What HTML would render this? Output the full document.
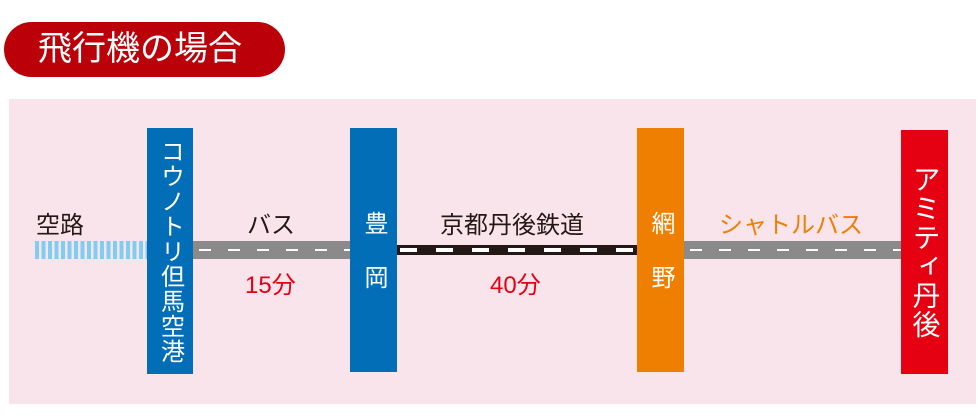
<!DOCTYPE html>
<html><head><meta charset="utf-8"><style>
body{margin:0;width:980px;height:419px;background:#fff;position:relative;overflow:hidden;font-family:"Liberation Sans","Noto Sans CJK JP",sans-serif}
.a{position:absolute}
.v{writing-mode:vertical-rl;color:#fff;font-size:24px;display:flex;align-items:center;justify-content:center}
.road{background:#8a8a8a;height:18px;top:241px}
.road:after{content:"";position:absolute;left:6px;right:0;top:8px;height:2px;background:repeating-linear-gradient(90deg,#fff 0 12px,transparent 12px 29px)}
.lbl{font-size:24px;color:#231815}
</style></head><body>
<div class="a" style="left:4px;top:22px;width:281px;height:55px;border-radius:28px;background:#bb0009;color:#fff;font-size:34px;line-height:55px;padding-left:34px;box-sizing:border-box">飛行機の場合</div>
<div class="a" style="left:9px;top:99px;width:967px;height:305px;background:#f9e4ec"></div>
<div class="a" style="left:35px;top:241px;width:112px;height:18px;background:repeating-linear-gradient(90deg,#7ecef4 0 4px,transparent 4px 6.5px)"></div>
<div class="a road" style="left:193px;width:157px"></div>
<div class="a" style="left:397px;top:245px;width:240px;height:10px;background:#231815"><div class="a" style="left:3px;top:3px;right:0;height:4px;background:repeating-linear-gradient(90deg,#fff 0 17px,transparent 17px 36px)"></div></div>
<div class="a road" style="left:684px;width:217px"></div>
<div class="a v" style="left:147px;top:128px;width:46px;height:246px;background:#036eb8;font-size:24px;letter-spacing:1px">コウノトリ但馬空港</div>
<div class="a v" style="left:350px;top:128px;width:47px;height:244px;background:#036eb8;letter-spacing:30px;padding-top:30px;box-sizing:border-box">豊岡</div>
<div class="a v" style="left:637px;top:128px;width:47px;height:244px;background:#ee7f00;letter-spacing:30px;padding-top:30px;box-sizing:border-box">網野</div>
<div class="a v" style="left:901px;top:130px;width:47px;height:244px;background:#e50012;font-size:28px;letter-spacing:1px">アミティ丹後</div>
<div class="a lbl" style="left:36px;top:205px">空路</div>
<div class="a lbl" style="left:247px;top:205px">バス</div>
<div class="a lbl" style="left:440px;top:205px">京都丹後鉄道</div>
<div class="a lbl" style="left:719px;top:205px;color:#ee7f00">シャトルバス</div>
<div class="a lbl" style="left:245px;top:265px;color:#e50012">15分</div>
<div class="a lbl" style="left:490px;top:265px;color:#e50012">40分</div>
</body></html>
